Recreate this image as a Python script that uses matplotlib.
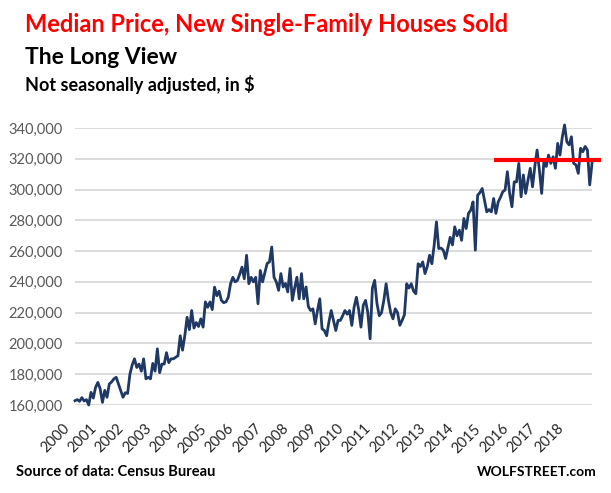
import numpy as np
import matplotlib
matplotlib.use("Agg")
import matplotlib.pyplot as plt
import matplotlib.transforms as mtransforms

# monthly median price, Jan 2000 .. Nov 2018
y2000 = [162800, 163500, 162400, 164800, 162600, 163500, 160000, 168200, 164500, 171500, 174700, 170500]
y2001 = [161700, 169500, 165000, 173700, 175000, 177000, 178000, 173700, 169500, 165000, 168000, 167500]
y2002 = [180000, 186000, 190000, 184400, 186600, 182000, 190000, 177000, 178000, 177000, 187000, 182000]
y2003 = [196500, 181000, 186600, 186600, 194000, 187500, 190000, 190000, 191000, 192000, 205000, 195600]
y2004 = [205000, 217000, 209000, 221400, 210000, 213600, 211000, 216000, 210600, 227000, 223500, 227000]
y2005 = [222000, 236600, 231000, 234000, 228000, 226500, 227000, 230000, 238800, 243000, 240000, 241000]
y2006 = [245000, 249600, 242000, 257300, 238800, 243000, 240000, 243000, 225800, 247400, 240000, 246000]
y2007 = [252000, 253000, 262700, 243000, 240000, 234500, 245400, 236700, 239000, 233500, 248700, 228000]
y2008 = [236000, 243000, 229000, 245400, 229000, 236700, 224000, 221400, 222500, 212700, 221400, 229000]
y2009 = [209500, 208400, 205000, 214000, 221400, 215000, 208400, 215000, 215000, 218000, 221400, 219000]
y2010 = [221400, 211700, 223600, 230000, 222000, 210600, 224700, 228000, 220000, 203000, 236000, 241000]
y2011 = [226000, 218000, 220000, 228000, 238800, 228000, 220000, 216000, 222500, 220000, 211800, 215000]
y2012 = [218600, 238800, 236000, 238800, 234000, 232300, 251800, 250000, 253000, 245400, 250000, 257300]
y2013 = [251800, 263800, 279000, 261700, 262000, 260600, 255200, 262000, 269000, 264000, 275800, 270000]
y2014 = [273600, 267000, 281200, 274700, 284500, 286600, 292000, 260600, 296300, 298000, 300700, 293000]
y2015 = [285500, 287000, 285500, 294200, 284500, 292000, 295000, 298600, 299700, 311600, 297500, 288800]
y2016 = [305000, 305000, 317000, 295300, 309500, 297500, 306000, 313800, 301800, 315000, 325700, 312700]
y2017 = [297500, 319000, 315000, 322400, 317000, 321300, 313800, 330000, 322400, 334000, 342000, 331000]
y2018 = [329000, 334300, 317000, 316000, 310500, 326800, 324600, 328000, 325700, 303000, 317000]

prices = (y2000 + y2001 + y2002 + y2003 + y2004 + y2005 + y2006 + y2007 + y2008 + y2009
          + y2010 + y2011 + y2012 + y2013 + y2014 + y2015 + y2016 + y2017 + y2018)
years = list(range(2000, 2019))

# red reference line (level, from month, to month)
red_level = 319000
red_from = 183
red_to = 230

plt.rcParams['font.family'] = ['Lato', 'DejaVu Sans']

fig = plt.figure(figsize=(6.11, 4.93), dpi=100)
ax = fig.add_axes([75 / 611, 88 / 493, 517 / 611, 277 / 493])

months = np.arange(len(prices))
ax.plot(months, prices, color='#1f3864', lw=2, clip_on=False, zorder=3)
ax.plot([red_from, red_to], [red_level, red_level], color='#ff0000', lw=3, clip_on=False,
        solid_capstyle='butt', zorder=4)

ax.set_xlim(0, len(prices) - 1)
ax.set_ylim(160000, 340000)
ax.set_yticks(np.arange(160000, 340001, 20000))
ax.set_yticklabels([f'{v:,}' for v in range(160000, 340001, 20000)])
ax.yaxis.grid(True, color='#d9d9d9', lw=1.3)
ax.set_axisbelow(True)
for s in ax.spines.values():
    s.set_visible(False)
ax.tick_params(axis='y', length=0, pad=9, labelsize=10.5, labelcolor='#595959')

ax.set_xticks([12 * i for i in range(len(years))])
ax.set_xticklabels([str(y) for y in years], rotation=45, ha='right', va='top')
ax.tick_params(axis='x', length=0, pad=12, labelsize=10.5, labelcolor='#262626')
shift = mtransforms.ScaledTranslation(-3 / 100, 0, fig.dpi_scale_trans)
for lab in ax.get_xticklabels():
    lab.set_transform(lab.get_transform() + shift)

fig.text(25 / 611, 1 - 25 / 493, 'Median Price, New Single-Family Houses Sold', color='#ff0000',
         fontsize=17, fontweight='bold', va='center', ha='left')
fig.text(25 / 611, 1 - 58 / 493, 'The Long View', color='black',
         fontsize=16.5, fontweight='bold', va='center', ha='left')
fig.text(25 / 611, 1 - 85 / 493, 'Not seasonally adjusted, in $', color='black',
         fontsize=13, fontweight='bold', va='center', ha='left')
fig.text(16 / 611, 1 - 472 / 493, 'Source of data: Census Bureau', color='black',
         fontsize=10.5, fontweight='bold', va='center', ha='left')
fig.text(597 / 611, 1 - 472 / 493, 'WOLFSTREET.com', color='black',
         fontsize=10, fontweight='bold', va='center', ha='right')

fig.savefig('out.png', dpi=100)
